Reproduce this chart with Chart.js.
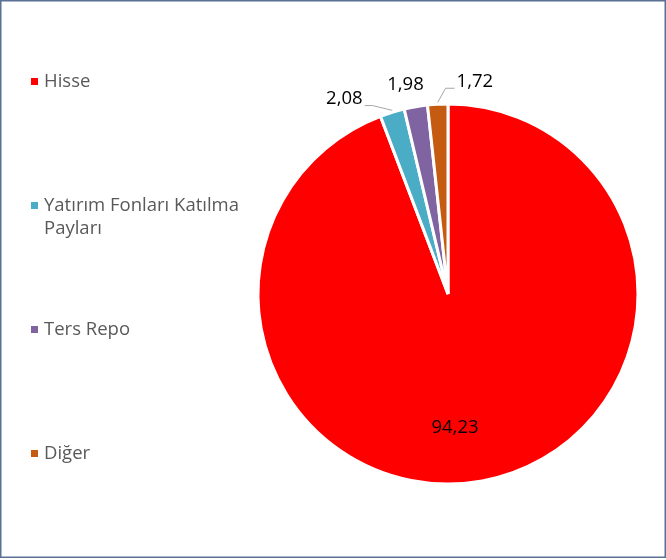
<!DOCTYPE html>
<html>
<head>
<meta charset="utf-8">
<script src="https://cdn.jsdelivr.net/npm/chart.js@4"></script>
<style>
  html, body { margin: 0; padding: 0; background: #ffffff; }
  #wrap { position: relative; width: 666px; height: 560px; }
</style>
</head>
<body>
<div id="wrap"><canvas id="c" width="666" height="560"></canvas></div>
<script>
// ---- data ----
const categories = ['Hisse', 'Yatırım Fonları Katılma Payları', 'Ters Repo', 'Diğer'];
const legendLines = [['Hisse'], ['Yatırım Fonları Katılma', 'Payları'], ['Ters Repo'], ['Diğer']];
const shares = [94.23, 2.08, 1.98, 1.72];
const valueLabels = ['94,23', '2,08', '1,98', '1,72'];
const colors = ['#FF0000', '#4BACC6', '#8064A2', '#C55A11'];

const FONT = '"Open Sans", Lato, sans-serif';

// label anchor (polar from pie centre: deg clockwise from top, radius factor) — layout only
const labelPolar = [[177, 0.703], [332, 1.162], [348.5, 1.123], [7.2, 1.126]];
const leaderSide = [null, 'right', null, 'left'];

const frame = {
  id: 'frame',
  afterDraw(chart) {
    const ctx = chart.ctx;
    ctx.save();
    ctx.strokeStyle = '#5a7094';
    ctx.lineWidth = 1.5;
    ctx.strokeRect(0.75, 0.75, 664.5, 556.5);
    ctx.restore();
  }
};

const customLegend = {
  id: 'customLegend',
  afterDraw(chart) {
    const ctx = chart.ctx;
    const ys = [81.5, 205.5, 329.5, 453.5];
    ctx.save();
    ctx.font = '18.5px ' + FONT;
    ctx.textBaseline = 'middle';
    ctx.textAlign = 'left';
    legendLines.forEach((lines, i) => {
      ctx.fillStyle = colors[i];
      ctx.fillRect(31, ys[i] - 3.5, 7, 7);
      ctx.fillStyle = '#595959';
      lines.forEach((t, k) => ctx.fillText(t, 44, ys[i] + k * 23));
    });
    ctx.restore();
  }
};

const sliceLabels = {
  id: 'sliceLabels',
  afterDatasetsDraw(chart) {
    const ctx = chart.ctx;
    const meta = chart.getDatasetMeta(0);
    ctx.save();
    ctx.font = '18.5px ' + FONT;
    ctx.textBaseline = 'middle';
    ctx.textAlign = 'center';
    meta.data.forEach((arc, i) => {
      const p = arc.getProps(['x', 'y', 'startAngle', 'endAngle', 'outerRadius'], true);
      const [deg, f] = labelPolar[i];
      const a = (deg - 90) * Math.PI / 180;
      const lx = p.x + Math.cos(a) * p.outerRadius * f;
      const ly = p.y + Math.sin(a) * p.outerRadius * f;
      const w = ctx.measureText(valueLabels[i]).width;
      if (leaderSide[i]) {
        const mid = (p.startAngle + p.endAngle) / 2;
        const ex = p.x + Math.cos(mid) * p.outerRadius;
        const ey = p.y + Math.sin(mid) * p.outerRadius;
        ctx.strokeStyle = '#A6A6A6';
        ctx.lineWidth = 1;
        ctx.beginPath();
        if (leaderSide[i] === 'right') {
          const sx = lx + w / 2 + 2, sy = ly + 6.5;
          ctx.moveTo(sx, sy); ctx.lineTo(sx + 8, sy); ctx.lineTo(ex, ey - 2);
        } else {
          const sx = lx - w / 2 - 2, sy = ly + 6.5;
          ctx.moveTo(sx, sy); ctx.lineTo(sx - 9, sy); ctx.lineTo(ex, ey - 2);
        }
        ctx.stroke();
      }
      ctx.fillStyle = '#000000';
      ctx.fillText(valueLabels[i], lx, ly);
    });
    ctx.restore();
  }
};

new Chart(document.getElementById('c'), {
  type: 'pie',
  data: {
    labels: categories,
    datasets: [{
      data: shares,
      backgroundColor: colors,
      borderColor: '#FFFFFF',
      borderWidth: 3
    }]
  },
  options: {
    responsive: false,
    animation: false,
    radius: 190,
    layout: { padding: { left: 258, right: 28, top: 104, bottom: 76 } },
    plugins: {
      legend: { display: false },
      tooltip: { enabled: false }
    }
  },
  plugins: [frame, customLegend, sliceLabels]
});
</script>
</body>
</html>
